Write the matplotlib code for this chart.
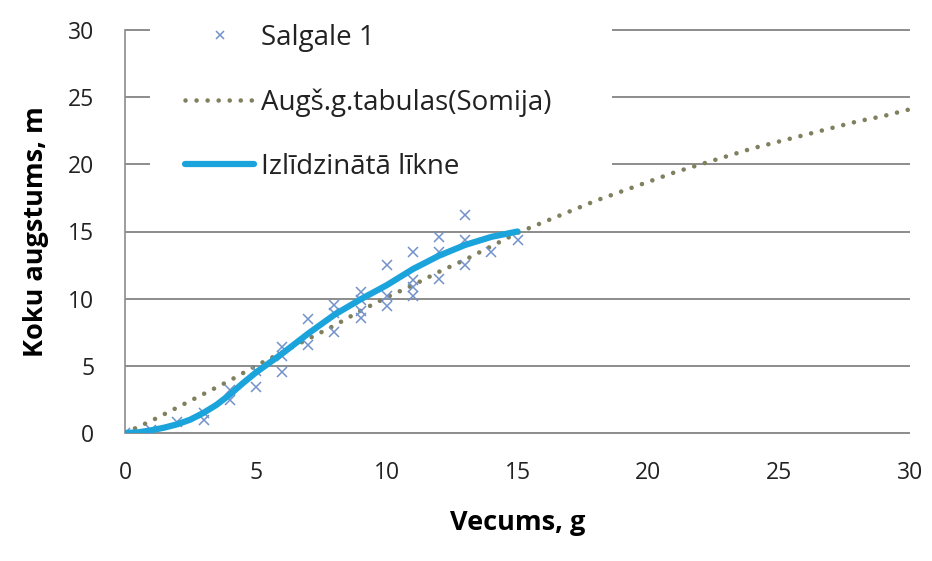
import matplotlib
matplotlib.use("Agg")
import matplotlib.pyplot as plt
from matplotlib.patches import Rectangle

# Observed data (Salgale 1)
obs_age = [0, 1, 2, 3, 3, 4, 4, 5, 5, 6, 6, 6, 7, 7, 8, 8, 8, 9, 9, 9, 9,
           10, 10, 10, 11, 11, 11, 11, 12, 12, 12, 13, 13, 13, 14, 15]
obs_height = [0, 0.2, 0.8, 1.5, 1.0, 3.2, 2.45, 4.6, 3.45, 6.4, 5.7, 4.55, 8.5, 6.55,
              9.5, 8.9, 7.55, 10.5, 9.9, 9.05, 8.55,
              12.5, 10.2, 9.45, 13.5, 11.4, 10.9, 10.2, 14.6, 13.5, 11.5,
              16.2, 14.4, 12.5, 13.5, 14.4]

# Height tables (Finland)
tab_age = [0, 1, 2, 3, 4, 5, 6, 7, 8, 9, 10, 11, 12, 13, 14, 15, 16, 17, 18, 19, 20,
           21, 22, 23, 24, 25, 26, 27, 28, 29, 30]
tab_height = [0, 0.9, 1.9, 2.9, 3.9, 5.0, 6.0, 7.0, 8.0, 9.1, 10.1, 11.0, 12.0, 12.9,
              13.9, 14.9, 15.7, 16.5, 17.3, 18.0, 18.7, 19.4, 20.0, 20.6, 21.2, 21.7,
              22.2, 22.7, 23.2, 23.6, 24.1]

# Fitted curve
fit_age = [0, 0.5, 1, 1.5, 2, 2.5, 3, 3.5, 4, 4.5, 5, 5.5, 6, 6.5, 7, 8, 9, 10, 11, 12,
           13, 14, 15]
fit_height = [0, 0.05, 0.2, 0.4, 0.65, 1.0, 1.5, 2.1, 2.85, 3.7, 4.5, 5.2, 5.9, 6.65,
              7.4, 8.8, 9.95, 11.0, 12.2, 13.2, 14.0, 14.6, 15.0]

labels = ["Salgale 1", "Augš.g.tabulas(Somija)", "Izlīdzinātā līkne"]
xticks = [0, 5, 10, 15, 20, 25, 30]
yticks = [0, 5, 10, 15, 20, 25, 30]

plt.rcParams['font.family'] = ['Open Sans', 'DejaVu Sans']

fig = plt.figure(figsize=(9.32, 5.61), dpi=100)
ax = fig.add_axes([125/932, 1-433/561, 785/932, 403/561])
ax.set_xlim(0, 30)
ax.set_ylim(0, 30)

# horizontal gridlines
ax.hlines(yticks, 0, 30, colors='#8c8c8c', linewidth=1.4, zorder=0.5, clip_on=False)
for s in ['top', 'right', 'bottom']:
    ax.spines[s].set_visible(False)
ax.spines['left'].set_color('#8c8c8c')
ax.spines['left'].set_linewidth(1.2)

# white area behind legend
ax.add_patch(Rectangle(((150-125)/785, (433-195)/403), (612-150)/785, 1.05,
                       transform=ax.transAxes, facecolor='white', edgecolor='none',
                       zorder=1, clip_on=False))

sc, = ax.plot(obs_age, obs_height, linestyle='none', marker='x', markersize=7.5,
              markeredgewidth=1.1, color='#7392cb', label=labels[0], zorder=3)
tb, = ax.plot(tab_age, tab_height, linestyle=(0, (0.01, 2.4)), dash_capstyle='round',
              linewidth=3.3, color='#80805e', label=labels[1], zorder=2)
ft, = ax.plot(fit_age, fit_height, linestyle='-', linewidth=4.5, color='#1ba3dc',
              solid_capstyle='round', label=labels[2], zorder=4)

ax.set_xticks(xticks)
ax.set_yticks(yticks)
ax.tick_params(axis='both', labelsize=16.5, colors='#222222', length=0)
ax.tick_params(axis='x', pad=20)
ax.tick_params(axis='y', pad=22)

ax.set_xlabel("Vecums, g", fontsize=19.5, fontweight='bold', labelpad=18)
ax.set_ylabel("Koku augstums, m", fontsize=19.5, fontweight='bold', labelpad=14)

leg = ax.legend(handles=[sc, tb, ft], loc='upper left',
                bbox_to_anchor=(185/932, 1-24/561), bbox_transform=fig.transFigure,
                frameon=False, fontsize=20, handlelength=2.5, handletextpad=0.25,
                labelspacing=1.3, markerscale=0.8, borderpad=0, borderaxespad=0)
for t in leg.get_texts():
    t.set_color('#222222')

fig.savefig("out.png", dpi=100)
